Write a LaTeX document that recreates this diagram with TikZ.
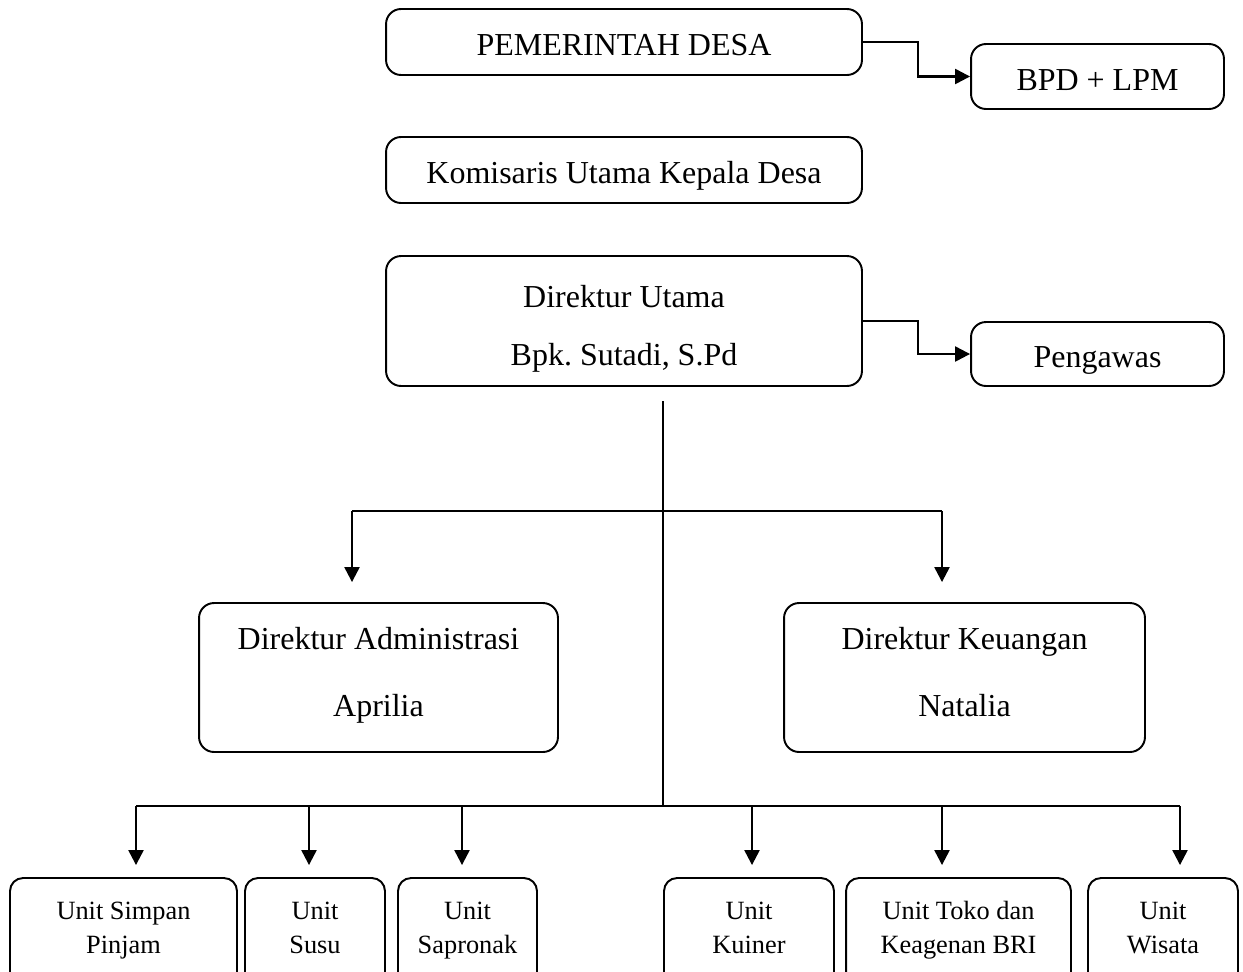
\documentclass[tikz,border=0pt]{standalone}
\usepackage{fontspec}
\setmainfont{Liberation Serif}
\usetikzlibrary{arrows.meta}

\begin{document}
\begin{tikzpicture}[x = 0.02cm, y = -0.02cm,
    box/.style = {draw, line width = 1.1pt, rounded corners = 0.3cm, inner sep = 0,
      align = center, font = \fontsize{18.2}{21.8}\selectfont,
      execute at begin node = \rule{0pt}{22pt}, execute at end node = \strut},
    unit/.style = {draw, line width = 1.1pt, rounded corners = 0.26cm, inner sep = 0,
      align = center, minimum height = 2.16cm, font = \fontsize{15}{17.5}\selectfont,
      execute at begin node = \rule{0pt}{18.5pt}, execute at end node = \strut},
    link/.style = {line width = 1.3pt, -{Triangle[length = 0.3cm, width = 0.3cm]}}]
    \clip (0,0) rectangle (1243,971);

    \node [box, minimum width = 9.52cm, minimum height = 1.32cm] (pemdes) at (624,42) {PEMERINTAH DESA};
    \node [box, minimum width = 5.06cm, minimum height = 1.3cm] (bpd) at (1097.5,76.5) {BPD + LPM};
    \node [box, minimum width = 9.52cm, minimum height = 1.32cm] (komisaris) at (624,170) {Komisaris Utama Kepala Desa};
    \node [box, minimum width = 9.52cm, minimum height = 2.6cm] (dirut) at (624,321)
      {\rule{0pt}{24pt}Direktur Utama\\[0.4cm]Bpk.\ Sutadi, S.Pd};
    \node [box, minimum width = 5.06cm, minimum height = 1.28cm] (pengawas) at (1097.5,354) {Pengawas};
    \node [box, minimum width = 7.18cm, minimum height = 2.98cm] (diradm) at (378.5,677.5)
      {Direktur Administrasi\\[0.58cm]Aprilia};
    \node [box, minimum width = 7.22cm, minimum height = 2.98cm] (dirkeu) at (964.5,677.5)
      {Direktur Keuangan\\[0.58cm]Natalia};

    \node [unit, minimum width = 4.54cm] (simpan) at (123.5,932) {Unit Simpan\\[0.06cm]Pinjam};
    \node [unit, minimum width = 2.8cm] (susu) at (315,932) {Unit\\[0.06cm]Susu};
    \node [unit, minimum width = 2.78cm] (sapronak) at (467.5,932) {Unit\\[0.06cm]Sapronak};
    \node [unit, minimum width = 3.4cm] (kuiner) at (749,932) {Unit\\[0.06cm]Kuiner};
    \node [unit, minimum width = 4.5cm] (toko) at (958.5,932) {Unit Toko dan\\[0.06cm]Keagenan BRI};
    \node [unit, minimum width = 3cm] (wisata) at (1163,932) {Unit\\[0.06cm]Wisata};

    \draw [link] (pemdes.east) -- ++(55,0) |- (bpd.west);
    \draw [link] (dirut.east) -- ++(55,0) |- (pengawas.west);

    \coordinate (spine) at (663,401);
    \coordinate (hub) at (663,806);
    \coordinate (m1) at (352,511);
    \coordinate (m2) at (942,511);
    \draw [line width = 1pt] (spine) -- (hub);
    \draw [line width = 1.3pt] (m1) -- (m2);
    \draw [link, shorten > = 0.4cm] (m1) -- (m1 |- diradm.north);
    \draw [link, shorten > = 0.4cm] (m2) -- (m2 |- dirkeu.north);

    \coordinate (u1) at (136,806);
    \coordinate (u2) at (309,806);
    \coordinate (u3) at (462,806);
    \coordinate (u4) at (752,806);
    \coordinate (u5) at (942,806);
    \coordinate (u6) at (1180,806);
    \draw [line width = 1.3pt] (u1) -- (u6);
    \draw [link, shorten > = 0.24cm] (u1) -- (u1 |- simpan.north);
    \draw [link, shorten > = 0.24cm] (u2) -- (u2 |- susu.north);
    \draw [link, shorten > = 0.24cm] (u3) -- (u3 |- sapronak.north);
    \draw [link, shorten > = 0.24cm] (u4) -- (u4 |- kuiner.north);
    \draw [link, shorten > = 0.24cm] (u5) -- (u5 |- toko.north);
    \draw [link, shorten > = 0.24cm] (u6) -- (u6 |- wisata.north);
  \end{tikzpicture}
\end{document}
